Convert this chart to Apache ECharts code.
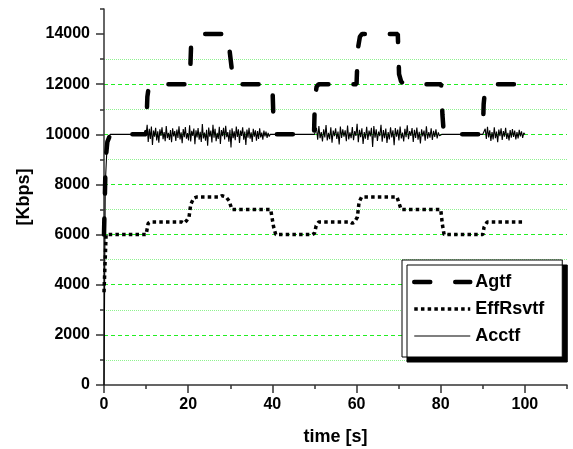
<!DOCTYPE html>
<html>
<head>
<meta charset="utf-8">
<script src="https://cdn.jsdelivr.net/npm/echarts@6/dist/echarts.min.js"></script>
<style>
  html, body { margin: 0; padding: 0; background: #fff; }
  #chart { width: 573px; height: 449px; }
</style>
</head>
<body>
<div id="chart"></div>
<script>
// Agtf: target rate, [time s, Kbps]
var agtfPoints = [
    [0, 6000], [0.4, 9000], [0.8, 9700], [1.5, 10000], [10, 10000],
    [10.3, 11500], [10.6, 11850], [11.2, 12000], [20.2, 12000], [20.5, 12600],
    [20.7, 13600], [21.2, 13950], [22, 14000], [29.6, 14000], [29.8, 13400],
    [30.5, 12400], [31, 12000], [40, 12000], [40.3, 10400], [40.6, 10000],
    [49.9, 10000], [50.1, 11400], [50.5, 11900], [51, 12000], [60, 12000],
    [60.3, 13400], [60.8, 13900], [61.3, 14000], [69.8, 14000], [70.1, 12400],
    [70.6, 12100], [71.5, 12000], [80.1, 12000], [80.4, 10800], [80.7, 10100],
    [81.2, 10000], [90, 10000], [90.2, 11200], [90.6, 11900], [91.2, 12000], [100, 12000]
];

// EffRsvtf: effective reservation
var effPoints = [
    [0, 3700], [0.5, 6000], [10, 6000], [10.5, 6450], [11, 6500], [18.5, 6500],
    [19, 6450], [19.6, 6550], [20.2, 6700], [20.6, 7200], [21.3, 7450], [22, 7500],
    [27.5, 7500], [28, 7550], [29, 7500], [29.7, 7350], [30.4, 7000], [39.6, 7000],
    [40.3, 6300], [40.8, 6000], [49.5, 6000], [50, 6050], [50.4, 6350], [51, 6500],
    [58.5, 6500], [59, 6450], [59.5, 6500], [60.2, 6700], [60.6, 7300], [61.2, 7500],
    [69.6, 7500], [70.1, 7250], [70.6, 7000], [80, 7000], [80.4, 6400], [80.8, 6000],
    [90, 6000], [90.3, 6300], [91, 6500], [94, 6500], [94.4, 6550], [94.8, 6500], [99.8, 6500]
];

// Acctf: flat parts
var acctfFlat = [[0, 0], [0.3, 8000], [0.8, 9800], [1.5, 10000], [10, 10000]];
// Acctf: ripple around 10000 while the target is changing (offsets in Kbps)
var acctfRippleA = [0, 380, -300, 220, -180, 310, -420, 150, -90, 260, -240, 120, -330, 200, -60, 280, -190, 90, -270, 330, -150, 60, -220, 170, -310, 240, -80, 130, -260, 190, -140, 320, -200, 80, -350, 210, -110, 290, -170, 50, -240, 360, -280, 140, -60, 230, -390, 160, -120, 250, -210, 100, -300, 410, -160, 70, -250, 180, -450, 270, -90, 150, -320, 380, -130, 220, -270, 60, -180, 300, -380, 170, -70, 260, -200, 340, -110, 90, -290, 180, -520, 240, -150, 120, -230, 310, -100, 200, -340, 150, -60, 280, -210, 110, -420, 190, -130, 260, -170, 80, -300, 220, -90, 160, -250, 130, -180, 240, -120, 70, -210, 150, -80, 110, -140, 60, -90, 0];
var acctfRippleB = [0, 260, -210, 330, -150, 90, -280, 200, -120, 370, -240, 60, -190, 280, -330, 150, -70, 240, -180, 110, -400, 310, -140, 200, -90, 160, -270, 350, -200, 80, -150, 290, -230, 130, -60, 420, -310, 180, -110, 240, -380, 90, -170, 300, -220, 150, -80, 260, -500, 330, -130, 200, -260, 110, -70, 380, -290, 170, -150, 230, -340, 90, -200, 280, -120, 160, -430, 250, -90, 190, -240, 310, -160, 70, -280, 220, -110, 360, -190, 130, -60, 250, -300, 180, -140, 270, -210, 100, -360, 200, -80, 150, -250, 320, -170, 90, -130, 240, -220, 140, -100, 200, -160, 80, -60, 0];
var acctfRippleC = [0, 220, -180, 300, -120, 160, -260, 90, -200, 280, -150, 110, -310, 190, -70, 240, -220, 130, -90, 260, -180, 60, -240, 170, -130, 210, -100, 150, -200, 90, -160, 180, -80, 120, -140, 60, 0];
// time spans of each ripple, seconds
var rippleSpans = [[10, 39.5], [50.2, 80], [90.3, 100]];

var yMajorTicks = [0, 2000, 4000, 6000, 8000, 10000, 12000, 14000];
var xMajorTicks = [0, 20, 40, 60, 80, 100];

function ripplePoints(offsets, span) {
    var step = (span[1] - span[0]) / (offsets.length - 1);
    return offsets.map(function (d, i) { return [span[0] + i * step, 10000 + d]; });
}

var acctfPoints = acctfFlat
    .concat(ripplePoints(acctfRippleA, rippleSpans[0]))
    .concat([[40, 10000], [50, 10000]])
    .concat(ripplePoints(acctfRippleB, rippleSpans[1]))
    .concat([[80.3, 10000], [90, 10000]])
    .concat(ripplePoints(acctfRippleC, rippleSpans[2]));

var font = 'Liberation Sans, Arial, sans-serif';
var axisCol = '#333';

var agtfLine = { color: '#000', width: 4.5, type: [16, 25], cap: 'round' };
var effLine = { color: '#000', width: 3.5, type: [3.5, 3.2] };
var acctfLine = { color: '#000', width: 1.1 };

var option = {
    animation: false,
    backgroundColor: '#fff',
    grid: { left: 104, right: 6, top: 9, bottom: 64, outerBoundsMode: 'none' },
    legend: {
        orient: 'vertical',
        left: 402,
        top: 260,
        padding: [13, 18, 12, 10],
        itemWidth: 56,
        itemHeight: 14,
        itemGap: 9,
        backgroundColor: '#fff',
        borderColor: '#000',
        borderWidth: 1,
        shadowColor: '#000',
        shadowBlur: 0,
        shadowOffsetX: 5,
        shadowOffsetY: 5,
        itemStyle: { opacity: 0 },
        textStyle: { fontFamily: font, fontWeight: 'bold', fontSize: 18, color: '#000' },
        data: [
            { name: 'Agtf', lineStyle: agtfLine },
            { name: 'EffRsvtf', lineStyle: effLine },
            { name: 'Acctf', lineStyle: acctfLine }
        ]
    },
    xAxis: [
        {
            type: 'value', min: 0, max: 110, interval: 10,
            name: 'time [s]', nameLocation: 'middle', nameGap: 43,
            nameTextStyle: { fontFamily: font, fontWeight: 'bold', fontSize: 18, color: '#000' },
            axisLine: { lineStyle: { color: axisCol, width: 1.5 } },
            axisTick: { length: 4, lineStyle: { color: axisCol, width: 1.5 } },
            axisLabel: {
                margin: 12, fontFamily: font, fontWeight: 'bold', fontSize: 16, color: '#000',
                formatter: function (v) { return (v % 20 === 0 && v <= 100) ? v : ''; }
            },
            splitLine: { show: false }
        },
        {
            type: 'value', min: 0, max: 110, interval: 20, position: 'bottom',
            axisLine: { show: false },
            axisTick: { length: 8, customValues: xMajorTicks, lineStyle: { color: axisCol, width: 1.5 } },
            axisLabel: { show: false },
            splitLine: { show: false }
        }
    ],
    yAxis: [
        {
            type: 'value', min: 0, max: 15000, interval: 1000,
            name: '[Kbps]', nameLocation: 'middle', nameGap: 71,
            nameTextStyle: { fontFamily: font, fontWeight: 'bold', fontSize: 18, color: '#000' },
            axisLine: { show: true, lineStyle: { color: axisCol, width: 1.5 } },
            axisTick: { show: true, length: 4, lineStyle: { color: axisCol, width: 1.5 } },
            axisLabel: {
                margin: 14, fontFamily: font, fontWeight: 'bold', fontSize: 16, color: '#000',
                formatter: function (v) { return (v % 2000 === 0 && v <= 14000) ? v : ''; }
            },
            splitLine: {
                show: true, showMaxLine: false,
                lineStyle: { color: ['rgba(0,0,0,0)', '#8ef28e'], type: [1, 1], width: 1 }
            }
        },
        {
            type: 'value', min: 0, max: 15000, interval: 2000, position: 'left',
            axisLine: { show: false },
            axisTick: { show: true, length: 8, customValues: yMajorTicks, lineStyle: { color: axisCol, width: 1.5 } },
            axisLabel: { show: false },
            splitLine: {
                show: true, showMaxLine: false, showMinLine: false,
                lineStyle: { color: '#22ee22', type: [4, 3], width: 1 }
            }
        }
    ],
    series: [
        {
            name: 'Agtf', type: 'line', data: agtfPoints,
            symbol: 'none', showSymbol: false,
            lineStyle: agtfLine, itemStyle: { color: '#000' }, z: 3
        },
        {
            name: 'EffRsvtf', type: 'line', data: effPoints,
            symbol: 'none', showSymbol: false,
            lineStyle: effLine, itemStyle: { color: '#000' }, z: 3
        },
        {
            name: 'Acctf', type: 'line', data: acctfPoints,
            symbol: 'none', showSymbol: false,
            lineStyle: acctfLine, itemStyle: { color: '#000' }, z: 2
        }
    ]
};

var chart = echarts.init(document.getElementById('chart'));
chart.setOption(option);
</script>
</body>
</html>
